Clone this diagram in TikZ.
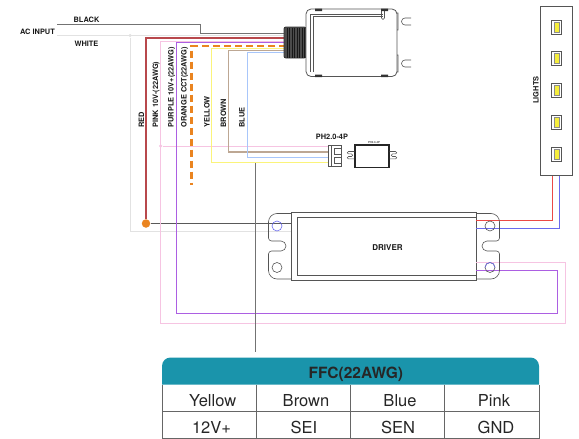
\documentclass[tikz,border=0pt]{standalone}
\usepackage{fontspec}
\usepackage{tikz}
\usetikzlibrary{calc}
\usetikzlibrary{positioning}
\setmainfont{TeX Gyre Heros}
\definecolor{wirered}{HTML}{B8484C}
\definecolor{ledred}{HTML}{EC4A46}
\definecolor{ledblue}{HTML}{6A6AEE}
\definecolor{wirepink}{HTML}{F6C4E2}
\definecolor{wirepurple}{HTML}{AC5FE2}
\definecolor{wireorange}{HTML}{EA8420}
\definecolor{wireyellow}{HTML}{FBF47A}
\definecolor{ledyellow}{HTML}{F6EE3C}
\definecolor{wirebrown}{HTML}{BDA793}
\definecolor{wireblue}{HTML}{A8C6FA}
\definecolor{wirewhite}{HTML}{E2E2E2}
\definecolor{headteal}{HTML}{1A94AB}
\definecolor{partgray}{HTML}{555555}
\tikzset{
  wirelabel/.style={font=\bfseries\fontsize{7.4}{8}\selectfont,text=black!90,inner sep=0pt},
  sidelabel/.style={wirelabel,rotate=90,anchor=west},
  part/.style={draw=partgray,line width=0.8pt},
  cell/.style={font=\fontsize{16.5}{18}\selectfont,text=black!85,inner sep=0pt,anchor=center},
}
\begin{document}
\begin{tikzpicture}[x=1pt,y=-1pt,line width=0.9pt]
    \useasboundingbox (0,0) rectangle (579,439);

    % end points
    \coordinate (blackin) at (57,24.5);
    \coordinate (whitein) at (57,35.5);
    \coordinate (blackout) at (286,33);
    \coordinate (whiteout) at (286,35.5);
    \coordinate (redout) at (286,38);
    \coordinate (pinkout) at (286,41);
    \coordinate (purpleout) at (286,42.5);
    \coordinate (orangeout) at (286,46);
    \coordinate (orangeend) at (191.5,185);
    \coordinate (yellowout) at (286,48);
    \coordinate (brownout) at (286,50.5);
    \coordinate (blueout) at (286,52.5);
    \coordinate (pinkpin) at (329,146);
    \coordinate (brownpin) at (329,152);
    \coordinate (bluepin) at (329,157);
    \coordinate (yellowpin) at (329,162.5);
    \coordinate (tablewire) at (255,352);

    \node[inner sep=0pt,minimum width=184.5pt,minimum height=68pt,part] (driver) at (383.75,246.5) {};
    \node[inner sep=0pt,minimum width=32.5pt,minimum height=169.5pt,part] (lights) at (556.25,91) {};
    \node[circle,fill=wireorange,inner sep=0pt,minimum size=8.5pt] (joint) at (146,223.5) {};
    \node[circle,fill=wirepink,inner sep=0pt,minimum size=3.5pt] (pinkdot) at (160.5,146) {};
    \node[circle,fill=wirewhite,inner sep=0pt,minimum size=3.5pt] (whitedot) at (130,35.5) {};

    % mains side
    \draw[draw=black!55] (blackin) -- ++(143.5,0) |- (blackout);
    \draw[draw=wirewhite] (whitein) -- (whiteout);
    \draw[draw=wirewhite] (whitedot) |- (driver.west |- 0,231);
    \draw[draw=wirered,line width=1.2pt] (redout) -| (joint);
    \draw[draw=black!65] (joint) -- (driver.west |- joint);

    % control wires
    \draw[draw=wirepink] (pinkout) -| (160.5,323.5) -| (565,262.5) -- (driver.east |- 0,262.5);
    \draw[draw=wirepink] (pinkdot) -- (pinkpin);
    \draw[draw=wirepurple] (purpleout) -| (176.5,313) -| (557,270) -- (driver.east |- 0,270);
    \draw[draw=wireyellow] (yellowout) -| (211.5,162.5) -- (yellowpin);
    \draw[draw=wirebrown,line width=1.1pt] (brownout) -| (228.5,152) -- (brownpin);
    \draw[draw=wireblue] (blueout) -| (247.5,157) -- (bluepin);
    \draw[draw=wireorange,line width=2.2pt,dash pattern=on 7pt off 4pt] (orangeout) -| (orangeend);
    \draw[draw=black!55] (255,163) -- (tablewire);

    % lights to driver
    \draw[draw=ledred] (lights.south -| 552,0) |- (driver.east |- 0,220.5);
    \draw[draw=ledblue] (lights.south -| 559.5,0) |- (driver.east |- 0,228);

    % module
    \node[inner sep=0pt,minimum width=22pt,minimum height=31pt,rounded corners=2pt,fill=black!70,draw=black!80] (gland) at (295,42.5) {};
    \foreach \x in {287,289.5,...,304.5}
      \draw[draw=black!90,line width=0.6pt] (\x,27.5) -- (\x,57.5);
    \node[inner sep=0pt,minimum width=91pt,minimum height=67.5pt,rounded corners=5pt,part,fill=white] (module) at (351.5,42.75) {};
    \draw[part,line width=0.5pt] (310.5,71.5) -- (310.5,14) -- (383,14)
      (313,71.5) -- (313,16.5) -- (383,16.5);
    \draw[part,line width=0.7pt] (381.5,10) -- (381.5,18) arc (180:0:1.5) -- (384.5,10);
    \fill[black!80] (315,8.5) rectangle (322,11) (381,8.5) rectangle (388,11)
      (315,74.5) rectangle (322,77) (381,74.5) rectangle (388,77);
    \foreach \y in {18,60}
      \draw[part,line width=0.6pt] (397,\y-5) -- (398,\y-5) -- (398,\y+12) -- (397,\y+12)
        (411,\y) -- (405,\y) arc (-90:-270:3.5) -- (411,\y+7);

    % connector and small board
    \node[inner sep=0pt,minimum width=13pt,minimum height=21pt,part,fill=white] (housing) at (334.5,155.5) {};
    \draw[part,line width=0.6pt] (331,145) -- (331,166) (334,148) rectangle (341,154) (334,157) rectangle (341,163);
    \node[inner sep=0pt,minimum width=34pt,minimum height=22.5pt,draw=black!85,line width=1.1pt] (board) at (372,156.25) {};
    \draw[part,line width=0.6pt] (board.west |- 0,151.5) -- ++(-6,0) arc (-90:-270:1.2) -- ++(3,0) arc (-90:90:1.3) -- ++(-3,0) arc (-90:-270:1.2) -- ++(6,0)
      (board.east |- 0,151.5) -- ++(6,0) arc (-90:90:1.2) -- ++(-3,0) arc (-90:-270:1.3) -- ++(3,0) arc (-90:90:1.2) -- ++(-6,0);
    \node[font=\bfseries\fontsize{2.7}{3}\selectfont,inner sep=0pt,text=black!70] (boardname) at (374,142.5) {PH2.0-4P};

    % lights
    \foreach \y in {27,58,90,122,154} {
      \draw[part,fill=white] (551.7,\y-7) rectangle (561.7,\y+7);
      \fill[ledyellow] (554.5,\y-5) rectangle (559,\y+5);
      \draw[black!45,line width=0.3pt] (554.5,\y-5) rectangle (559,\y+5);
    }

    % driver
    \draw[part,line width=0.7pt] (297,217.5) -- (driver.east |- 0,217.5)
      (driver.east |- 0,275.5) -- (297,275.5) -- (297,217.5);
    \draw[part,line width=0.6pt] (291.5,213.5) -- (277,213.5) arc (-90:-180:8.5) -- (268.5,238) arc (180:90:3) -- (281,241) arc (-90:90:5) -- (271.5,251) arc (-90:-180:3) -- (268.5,270.5) arc (180:90:8.5) -- (291.5,279);
    \draw[part,line width=0.6pt] (476,213.5) -- (491,213.5) arc (-90:0:8.5) -- (499.5,238) arc (0:90:3) -- (487,241) arc (-90:-270:5) -- (496.5,251) arc (-90:0:3) -- (499.5,270.5) arc (0:90:8.5) -- (476,279);
    \draw[part,line width=0.6pt] (277,267.5) circle (5) (490,226) circle (5) (490,267.5) circle (5);
    \draw[draw=ledblue,line width=0.6pt] (277,226) circle (5);
    \draw[draw=ledblue,line width=0.6pt] (485,267.5) arc (180:360:5);
    \node[wirelabel,font=\bfseries\fontsize{8}{9}\selectfont] (drivername) at (387.5,248) {DRIVER};

    % labels
    \node[wirelabel] (blacklabel) at (86.5,19.5) {BLACK};
    \node[wirelabel] (whitelabel) at (86.5,43.5) {WHITE};
    \node[wirelabel] (aclabel) at (37.5,32) {AC INPUT};
    \node[sidelabel] (redlabel) at (141.5,128) {RED};
    \node[sidelabel] (pinklabel) at (156,128) {PINK 10V-(22AWG)};
    \node[sidelabel] (purplelabel) at (171.7,128) {PURPLE 10V+(22AWG)};
    \node[sidelabel] (orangelabel) at (184.5,128) {ORANGE CCT(22AWG)};
    \node[sidelabel] (yellowlabel) at (207,128) {YELLOW};
    \node[sidelabel] (brownlabel) at (223.5,128) {BROWN};
    \node[sidelabel] (bluelabel) at (242,128) {BLUE};
    \node[wirelabel] (ph) at (332,136.5) {PH2.0-4P};
    \node[wirelabel,rotate=90] (lightslabel) at (536,90) {LIGHTS};

    % table
    \fill[headteal] (162,384.5) -- (162,366) arc (180:270:8.5) -- (530.5,357.5) arc (270:360:8.5) -- (539,384.5) -- cycle;
    \node[font=\bfseries\fontsize{15.5}{18}\selectfont,text=black!85,inner sep=0pt] (tabletitle) at (355.8,374) {FFC(22AWG)};
    \draw[draw=black!60,line width=0.7pt]
      (162,384.5) -- (162,438) -- (539,438) -- (539,384.5)
      (162,411) -- (539,411)
      (256.7,384.5) -- (256.7,438)
      (350.7,384.5) -- (350.7,438)
      (444.7,384.5) -- (444.7,438);
    \node[cell] (c1) at (212.7,400.7) {Yellow};
    \node[cell] (c2) at (306,400.7) {Brown};
    \node[cell] (c3) at (400,400.7) {Blue};
    \node[cell] (c4) at (494,400.7) {Pink};
    \node[cell] (c5) at (211.5,427) {12V+};
    \node[cell] (c6) at (304,427) {SEI};
    \node[cell] (c7) at (398,427) {SEN};
    \node[cell] (c8) at (496,427) {GND};
\end{tikzpicture}
\end{document}
